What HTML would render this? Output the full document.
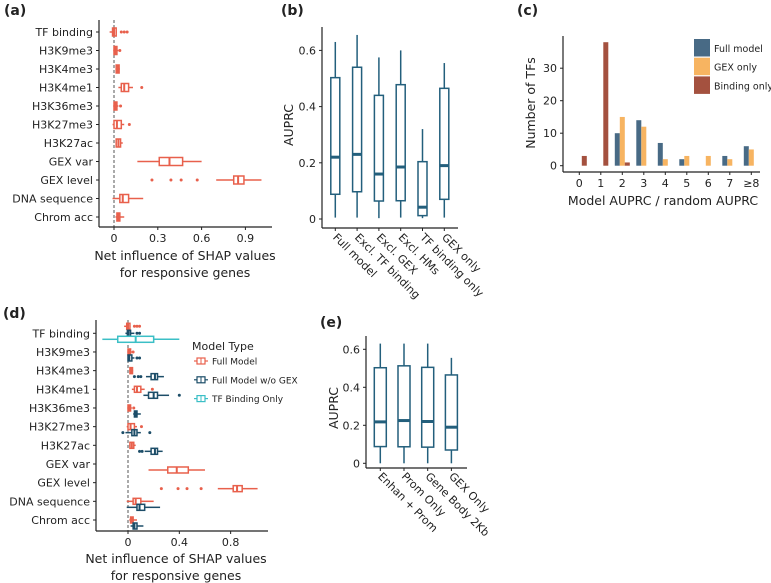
<!DOCTYPE html>
<html><head><meta charset="utf-8">
<style>
html,body{margin:0;padding:0;background:#fff;}
svg{display:block;font-family:"DejaVu Sans","Liberation Sans",sans-serif;}
text{fill:#222;}
</style></head>
<body>
<svg id="fig" width="771" height="583" viewBox="0 0 771 583" xmlns="http://www.w3.org/2000/svg">
<g id="pa"></g>
<g id="pb"></g>
<g id="pc"></g>
<g id="pd"></g>
<g id="pe"></g>
</svg>
<script>
// ---------- data ----------
const featureCats = ["TF binding","H3K9me3","H3K4me3","H3K4me1","H3K36me3","H3K27me3","H3K27ac","GEX var","GEX level","DNA sequence","Chrom acc"];
// [whiskerLow, q1, median, q3, whiskerHigh]
const fullModelStats = [[-0.03,-0.01,0,0.015,0.02],[-0.005,0,0.01,0.02,0.03],[0.01,0.015,0.025,0.035,0.04],[0.03,0.05,0.07,0.1,0.13],[-0.005,0,0.01,0.02,0.03],[-0.01,0,0.02,0.05,0.07],[0.01,0.015,0.03,0.045,0.06],[0.16,0.31,0.38,0.47,0.6],[0.7,0.82,0.85,0.89,1.01],[-0.01,0.04,0.06,0.1,0.2],[0.01,0.02,0.03,0.04,0.07]];
const fullModelOutliers = [[0.05,0.07,0.09],[0.04],[],[0.19],[0.045],[0.105],[],[],[0.26,0.39,0.46,0.57],[],[]];
const woGexStats = [[-0.02,-0.005,0.005,0.02,0.05],[0,0,0.01,0.03,0.05],[0.14,0.18,0.21,0.23,0.28],[0.12,0.16,0.2,0.23,0.32],[0.04,0.05,0.06,0.07,0.1],[-0.02,0.03,0.05,0.07,0.1],[0.13,0.18,0.21,0.23,0.27],null,null,[-0.01,0.07,0.09,0.13,0.25],[0.02,0.04,0.05,0.07,0.12]];
const woGexOutliers = [[0.07,0.09],[0.07,0.09],[0.05,0.08,0.1],[0.4],[],[-0.04,0.17],[0.09,0.11],[],[],[],[]];
const tfOnlyStats = [[-0.2,-0.08,0.06,0.2,0.4],null,null,null,null,null,null,null,null,null,null];
const tfOnlyOutliers = [[],[],[],[],[],[],[],[],[],[],[]];

const bCats = ["Full model","Excl. TF binding","Excl. GEX","Excl. HMs","TF binding only","GEX only"];
const bStats = [[0.005,0.088,0.22,0.503,0.63],[0.005,0.097,0.23,0.54,0.655],[0.003,0.064,0.16,0.44,0.575],[0.005,0.065,0.185,0.478,0.6],[0.003,0.012,0.042,0.204,0.32],[0.005,0.07,0.19,0.465,0.555]];
const bTicks = [0,0.2,0.4,0.6];

const cCats = ["0","1","2","3","4","5","6","7","≥8"];
const cFull = [0,0,10,14,7,2,0,3,6];
const cGex = [0,0,15,12,2,3,3,2,5];
const cBinding = [3,38,1,0,0,0,0,0,0];
const cTicks = [0,10,20,30];

const eCats = ["Enhan + Prom","Prom Only","Gene Body 2Kb","GEX Only"];
const eStats = [[0.0,0.088,0.218,0.503,0.63],[0.0,0.087,0.225,0.513,0.63],[0.0,0.085,0.22,0.505,0.63],[0.0,0.07,0.19,0.465,0.555]];
const eTicks = [0,0.2,0.4,0.6];

const aTicks = [0,0.3,0.6,0.9];
const aTickLabels = ["0","0.3","0.6","0.9"];
const dTicks = [0,0.4,0.8];
const dTickLabels = ["0","0.4","0.8"];

// ---------- helpers ----------
const NS="http://www.w3.org/2000/svg";
function mk(parent,tag,attrs,txt){const e=document.createElementNS(NS,tag);for(const k in attrs)e.setAttribute(k,attrs[k]);if(txt!==undefined)e.textContent=txt;parent.appendChild(e);return e;}
const RED="#e8604c", TEAL="#235f7c", DARK="#1c4d68", CYAN="#3bbfc6";
const AX="#222";
const TK=11, TT=12.5;

function hBox(g,st,outs,y,sx,col,h,name){
  const grp=mk(g,'g',{});
  
  
  mk(grp,'line',{x1:sx(st[0]),x2:sx(st[1]),y1:y,y2:y,stroke:col,'stroke-width':1.5});
  mk(grp,'line',{x1:sx(st[3]),x2:sx(st[4]),y1:y,y2:y,stroke:col,'stroke-width':1.5});
  mk(grp,'rect',{x:sx(st[1]),y:y-h/2,width:Math.max(sx(st[3])-sx(st[1]),1),height:h,fill:'#fff',stroke:col,'stroke-width':1.5});
  mk(grp,'line',{x1:sx(st[2]),x2:sx(st[2]),y1:y-h/2,y2:y+h/2,stroke:col,'stroke-width':2});
  outs.forEach(o=>mk(grp,'circle',{cx:sx(o),cy:y,r:1.5,fill:col}));
}
function vBox(g,st,x,sy,col,w,name){
  const grp=mk(g,'g',{});
  
  
  mk(grp,'line',{x1:x,x2:x,y1:sy(st[0]),y2:sy(st[1]),stroke:col,'stroke-width':1.5});
  mk(grp,'line',{x1:x,x2:x,y1:sy(st[3]),y2:sy(st[4]),stroke:col,'stroke-width':1.5});
  mk(grp,'rect',{x:x-w/2,y:sy(st[3]),width:w,height:sy(st[1])-sy(st[3]),fill:'#fff',stroke:col,'stroke-width':1.5});
  mk(grp,'line',{x1:x-w/2,x2:x+w/2,y1:sy(st[2]),y2:sy(st[2]),stroke:col,'stroke-width':3});
}
function label(g,x,y,t,name){const e=mk(g,'text',{x:x,y:y,'font-size':14,'font-weight':'bold'},t);}

// ---------- panel a ----------
(function(){
  const g=document.getElementById('pa');
  label(g,4,15,'(a)','panel-a-label');
  const sx=v=>114+v*146; const sy=i=>32+i*18.5;
  mk(g,'line',{x1:sx(0),x2:sx(0),y1:20,y2:227,stroke:'#555','stroke-dasharray':'3,2'});
  featureCats.forEach((c,i)=>{
    if(fullModelStats[i]) hBox(g,fullModelStats[i],fullModelOutliers[i],sy(i),sx,RED,8,'box-a-'+i);
    mk(g,'line',{x1:96,x2:99,y1:sy(i),y2:sy(i),stroke:AX});
    const t=mk(g,'text',{x:93,y:sy(i)+4,'text-anchor':'end','font-size':TK},c);
    
    
  });
  mk(g,'line',{x1:99,x2:99,y1:20,y2:227,stroke:AX,'stroke-width':1.2});
  mk(g,'line',{x1:99,x2:272,y1:227,y2:227,stroke:AX,'stroke-width':1.2});
  aTicks.forEach((v,i)=>{mk(g,'line',{x1:sx(v),x2:sx(v),y1:227,y2:230,stroke:AX});
    const t=mk(g,'text',{x:sx(v),y:242,'text-anchor':'middle','font-size':TK},aTickLabels[i]);
    });
  const x1=mk(g,'text',{x:185,y:260,'text-anchor':'middle','font-size':TT},'Net influence of SHAP values');
  
  mk(g,'text',{x:185,y:277,'text-anchor':'middle','font-size':TT},'for responsive genes');
})();

// ---------- panel b ----------
(function(){
  const g=document.getElementById('pb');
  label(g,281,15,'(b)','panel-b-label');
  const sy=v=>219-v*281; const sx=i=>335.3+i*21.8;
  bCats.forEach((c,i)=>{
    vBox(g,bStats[i],sx(i),sy,TEAL,9,'box-b-'+i);
    mk(g,'line',{x1:sx(i),x2:sx(i),y1:228,y2:231,stroke:AX});
    const t=mk(g,'text',{x:sx(i)-3,y:238,'font-size':TK,transform:`rotate(45 ${sx(i)-3} 238)`},c);
    
  });
  mk(g,'line',{x1:322,x2:322,y1:27,y2:228,stroke:AX,'stroke-width':1.2});
  mk(g,'line',{x1:322,x2:458,y1:228,y2:228,stroke:AX,'stroke-width':1.2});
  bTicks.forEach(v=>{mk(g,'line',{x1:319,x2:322,y1:sy(v),y2:sy(v),stroke:AX});
    mk(g,'text',{x:316,y:sy(v)+4,'text-anchor':'end','font-size':TK},v===0?'0':v.toFixed(1));});
  const yl=mk(g,'text',{x:293,y:125,'text-anchor':'middle','font-size':TT,transform:'rotate(-90 293 125)'},'AUPRC');
  
})();

// ---------- panel c ----------
(function(){
  const g=document.getElementById('pc');
  label(g,517,15,'(c)','panel-c-label');
  const sy=v=>165.7-v*3.25; const sx=i=>579.3+i*21.5; const bw=5;
  const series=[[cFull,'#486a85','full'],[cGex,'#f7b461','gex'],[cBinding,'#a4513f','binding']];
  cCats.forEach((c,i)=>{
    series.forEach((s,k)=>{
      const v=s[0][i]; if(v<=0) return;
      const r=mk(g,'rect',{x:sx(i)-7.5+k*bw,y:sy(v),width:bw,height:sy(0)-sy(v),fill:s[1]});
      
    });
    mk(g,'line',{x1:sx(i),x2:sx(i),y1:172,y2:175,stroke:AX});
    const t=mk(g,'text',{x:sx(i),y:187,'text-anchor':'middle','font-size':TK},c);
    
  });
  mk(g,'line',{x1:563,x2:563,y1:36,y2:172,stroke:AX,'stroke-width':1.2});
  mk(g,'line',{x1:563,x2:760,y1:172,y2:172,stroke:AX,'stroke-width':1.2});
  cTicks.forEach(v=>{mk(g,'line',{x1:560,x2:563,y1:sy(v),y2:sy(v),stroke:AX});
    mk(g,'text',{x:557,y:sy(v)+4,'text-anchor':'end','font-size':TK},String(v));});
  const yl=mk(g,'text',{x:535,y:103,'text-anchor':'middle','font-size':TT,transform:'rotate(-90 535 103)'},'Number of TFs');
  
  const xl=mk(g,'text',{x:663,y:205,'text-anchor':'middle','font-size':TT},'Model AUPRC / random AUPRC');
  
  const leg=[['Full model','#486a85'],['GEX only','#f7b461'],['Binding only','#a4513f']];
  leg.forEach((l,k)=>{
    const e=mk(g,'g',{});
    
    mk(e,'rect',{x:694,y:39+k*18.7,width:16,height:17.5,fill:l[1]});
    mk(e,'text',{x:714,y:52+k*18.7,'font-size':9.5},l[0]);
  });
})();

// ---------- panel d ----------
(function(){
  const g=document.getElementById('pd');
  label(g,3,318,'(d)','panel-d-label');
  const sx=v=>128+v*128.3; const sy=i=>333.3+i*18.67;
  mk(g,'line',{x1:sx(0),x2:sx(0),y1:320,y2:531,stroke:'#555','stroke-dasharray':'3,2'});
  featureCats.forEach((c,i)=>{
    const list=[[fullModelStats[i],fullModelOutliers[i],RED,'full'],[woGexStats[i],woGexOutliers[i],DARK,'wogex'],[tfOnlyStats[i],tfOnlyOutliers[i],CYAN,'tfonly']].filter(s=>s[0]);
    const offs=list.length===3?[-7,0,6]:list.length===2?[0,6]:[6];
    list.forEach((s,k)=>hBox(g,s[0],s[1],sy(i)+offs[k],sx,s[2],6,'box-d-'+s[3]+'-'+i));
    mk(g,'line',{x1:93,x2:96,y1:sy(i),y2:sy(i),stroke:AX});
    const t=mk(g,'text',{x:90,y:sy(i)+4,'text-anchor':'end','font-size':TK},c);
    
  });
  mk(g,'line',{x1:96,x2:96,y1:320,y2:531,stroke:AX,'stroke-width':1.2});
  mk(g,'line',{x1:96,x2:268,y1:531,y2:531,stroke:AX,'stroke-width':1.2});
  dTicks.forEach((v,i)=>{mk(g,'line',{x1:sx(v),x2:sx(v),y1:531,y2:534,stroke:AX});
    mk(g,'text',{x:sx(v),y:546,'text-anchor':'middle','font-size':TK},dTickLabels[i]);});
  const xl=mk(g,'text',{x:176,y:563,'text-anchor':'middle','font-size':TT},'Net influence of SHAP values');
  
  mk(g,'text',{x:176,y:580,'text-anchor':'middle','font-size':TT},'for responsive genes');
  const lt=mk(g,'text',{x:192,y:350,'font-size':TK},'Model Type');
  
  const leg=[['Full Model',RED],['Full Model w/o GEX',DARK],['TF Binding Only',CYAN]];
  leg.forEach((l,k)=>{
    const y=361+k*18.8;
    const e=mk(g,'g',{});
    
    mk(e,'line',{x1:194,x2:208,y1:y,y2:y,stroke:l[1],'stroke-width':1.2});
    mk(e,'rect',{x:197,y:y-3,width:8,height:6,fill:'#fff',stroke:l[1],'stroke-width':1.2});
    mk(e,'line',{x1:201,x2:201,y1:y-3,y2:y+3,stroke:l[1]});
    mk(e,'text',{x:212,y:y+3.5,'font-size':9},l[0]);
  });
})();

// ---------- panel e ----------
(function(){
  const g=document.getElementById('pe');
  label(g,320,327,'(e)','panel-e-label');
  const sy=v=>463.3-v*190; const sx=i=>380.3+i*23.7;
  eCats.forEach((c,i)=>{
    vBox(g,eStats[i],sx(i),sy,TEAL,12,'box-e-'+i);
    mk(g,'line',{x1:sx(i),x2:sx(i),y1:468,y2:471,stroke:AX});
    const t=mk(g,'text',{x:sx(i)-3,y:477,'font-size':TK,transform:`rotate(45 ${sx(i)-3} 477)`},c);
    
  });
  mk(g,'line',{x1:366,x2:366,y1:336,y2:468,stroke:AX,'stroke-width':1.2});
  mk(g,'line',{x1:366,x2:467,y1:468,y2:468,stroke:AX,'stroke-width':1.2});
  eTicks.forEach(v=>{mk(g,'line',{x1:363,x2:366,y1:sy(v),y2:sy(v),stroke:AX});
    mk(g,'text',{x:360,y:sy(v)+4,'text-anchor':'end','font-size':TK},v===0?'0':v.toFixed(1));});
  const yl=mk(g,'text',{x:338,y:408,'text-anchor':'middle','font-size':TT,transform:'rotate(-90 338 408)'},'AUPRC');
  
})();
</script>
</body></html>
